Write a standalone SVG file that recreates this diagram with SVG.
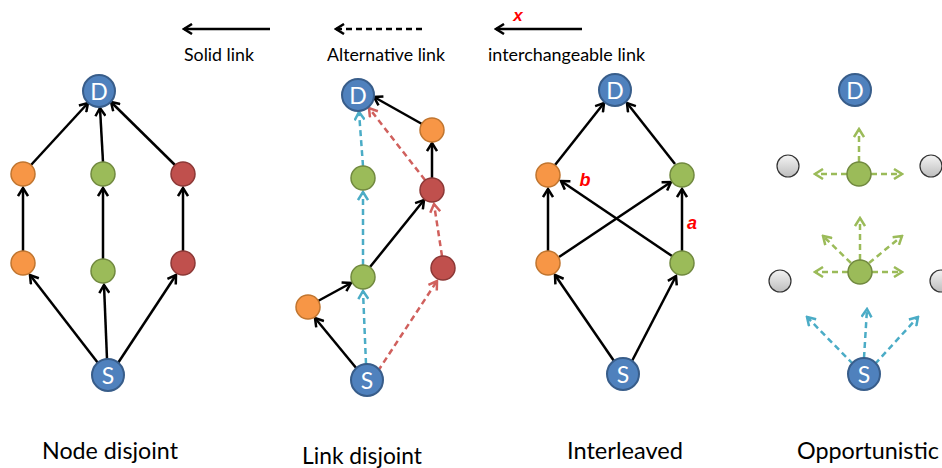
<svg xmlns="http://www.w3.org/2000/svg" width="942" height="468" viewBox="0 0 942 468">
<style>
.lbl{font-family:Lato,"Liberation Sans",sans-serif;fill:#000}
.leg{font-size:17px}
.cap{font-size:23px}
.nl{font-family:Lato,"Liberation Sans",sans-serif;font-size:23px;fill:#fff;text-anchor:middle;dominant-baseline:central}
.blue{fill:#4F81BD;stroke:#385D8A;stroke-width:2}
.or{fill:#F79646;stroke:#C0752F;stroke-width:1.5}
.gr{fill:#9BBB59;stroke:#71893F;stroke-width:1.5}
.rd{fill:#C0504D;stroke:#8C3836;stroke-width:1.5}
.gy{fill:url(#gg);stroke:#333;stroke-width:1.2}
.s{stroke:#000;stroke-width:2.5;fill:none;marker-end:url(#ah)}
.db{stroke:#4BACC6;stroke-width:2.5;fill:none;stroke-dasharray:6 4;marker-end:url(#ahb)}
.dr{stroke:#D0605D;stroke-width:2.5;fill:none;stroke-dasharray:6 4;marker-end:url(#ahr)}
.dg{stroke:#9BBB59;stroke-width:2.5;fill:none;stroke-dasharray:6 4;marker-end:url(#ahg)}
.dk{stroke:#000;stroke-width:2.5;fill:none;stroke-dasharray:6 4;marker-end:url(#ah)}
.red{font-family:"Liberation Sans",sans-serif;font-weight:bold;font-style:italic;fill:#FF0000}
</style>
<defs>
<linearGradient id="gg" x1="0" y1="0" x2="0" y2="1"><stop offset="0" stop-color="#f4f4f4"/><stop offset="1" stop-color="#bdbdbd"/></linearGradient>
<marker id="ah" viewBox="0 0 12 12" refX="10" refY="6" markerWidth="12" markerHeight="12" markerUnits="userSpaceOnUse" orient="auto"><path d="M2,1 L10,6 L2,11" fill="none" stroke="#000" stroke-width="2.5"/></marker>
<marker id="ahb" viewBox="0 0 12 12" refX="10" refY="6" markerWidth="12" markerHeight="12" markerUnits="userSpaceOnUse" orient="auto"><path d="M2,1 L10,6 L2,11" fill="none" stroke="#4BACC6" stroke-width="2.5"/></marker>
<marker id="ahr" viewBox="0 0 12 12" refX="10" refY="6" markerWidth="12" markerHeight="12" markerUnits="userSpaceOnUse" orient="auto"><path d="M2,1 L10,6 L2,11" fill="none" stroke="#D0605D" stroke-width="2.5"/></marker>
<marker id="ahg" viewBox="0 0 12 12" refX="10" refY="6" markerWidth="12" markerHeight="12" markerUnits="userSpaceOnUse" orient="auto"><path d="M2,1 L10,6 L2,11" fill="none" stroke="#9BBB59" stroke-width="2.5"/></marker>
</defs>
<rect width="942" height="468" fill="#fff"/>

<g id="legend">
<path class="s" d="M270,29 L184,29"/>
<path class="dk" d="M422,29 L336,29"/>
<path class="s" d="M582,29 L496,29"/>
<text class="red" x="518" y="21" font-size="17" text-anchor="middle">x</text>
<text class="lbl leg" x="184" y="61" textLength="70" lengthAdjust="spacingAndGlyphs">Solid link</text>
<text class="lbl leg" x="327" y="61" textLength="118" lengthAdjust="spacingAndGlyphs">Alternative link</text>
<text class="lbl leg" x="488" y="61" textLength="157" lengthAdjust="spacingAndGlyphs">interchangeable link</text>
</g>

<g id="connectors">
<!-- panel 1 -->
<path class="s" d="M31,165 L88,103"/>
<path class="s" d="M103,162 L100,108"/>
<path class="s" d="M176,166 L111,102"/>
<path class="s" d="M23,251 L23,188"/>
<path class="s" d="M103,259 L103,188"/>
<path class="s" d="M183,251 L183,188"/>
<path class="s" d="M98,363 L30,275"/>
<path class="s" d="M107,359 L104,285"/>
<path class="s" d="M118,363 L176,275"/>
<!-- panel 2 -->
<path class="s" d="M357,369 L315,318"/>
<path class="s" d="M318,301 L351,283"/>
<path class="s" d="M370,267 L424,200"/>
<path class="s" d="M432,178 L432,143"/>
<path class="s" d="M422,124 L374,97"/>
<path class="db" d="M366,364 L363,291"/>
<path class="db" d="M363,265 L363,192"/>
<path class="db" d="M363,166 L359,112"/>
<path class="dr" d="M378,371 L437,281"/>
<path class="dr" d="M442,256 L434,204"/>
<path class="dr" d="M425,180 L369,108"/>
<!-- panel 3 -->
<path class="s" d="M614,361 L555,275"/>
<path class="s" d="M632,361 L676,276"/>
<path class="s" d="M548,251 L548,189"/>
<path class="s" d="M682,251 L682,189"/>
<path class="s" d="M559,257 L671,182"/>
<path class="s" d="M672,256 L561,181"/>
<path class="s" d="M555,165 L604,103"/>
<path class="s" d="M675,164 L627,103"/>
<!-- panel 4 -->
<path class="dg" d="M859,162 L859,129"/>
<path class="dg" d="M847,174 L815,174"/>
<path class="dg" d="M871,174 L902,174"/>
<path class="dg" d="M860,260 L860,218"/>
<path class="dg" d="M851,263 L823,236"/>
<path class="dg" d="M869,263 L902,236"/>
<path class="dg" d="M848,272 L815,272"/>
<path class="dg" d="M872,272 L902,272"/>
<path class="db" d="M853,364 L807,317"/>
<path class="db" d="M864,358 L867,309"/>
<path class="db" d="M875,364 L918,317"/>
</g>

<g id="p1-D"><circle class="blue" cx="99" cy="91" r="16"/><text class="nl" x="99" y="91">D</text></g>
<g id="p1-o1"><circle class="or" cx="23" cy="174" r="12"/></g>
<g id="p1-g1"><circle class="gr" cx="103" cy="174" r="12"/></g>
<g id="p1-r1"><circle class="rd" cx="183" cy="174" r="12"/></g>
<g id="p1-o2"><circle class="or" cx="23" cy="263" r="12"/></g>
<g id="p1-g2"><circle class="gr" cx="103" cy="271" r="12"/></g>
<g id="p1-r2"><circle class="rd" cx="183" cy="263" r="12"/></g>
<g id="p1-S"><circle class="blue" cx="108" cy="375" r="16"/><text class="nl" x="108" y="375">S</text></g>

<g id="p2-D"><circle class="blue" cx="358" cy="95" r="16"/><text class="nl" x="358" y="95">D</text></g>
<g id="p2-o1"><circle class="or" cx="432" cy="130" r="12"/></g>
<g id="p2-g1"><circle class="gr" cx="363" cy="178" r="12"/></g>
<g id="p2-r1"><circle class="rd" cx="432" cy="190" r="12"/></g>
<g id="p2-g2"><circle class="gr" cx="363" cy="277" r="12"/></g>
<g id="p2-r2"><circle class="rd" cx="443" cy="268" r="12"/></g>
<g id="p2-o2"><circle class="or" cx="308" cy="307" r="12"/></g>
<g id="p2-S"><circle class="blue" cx="367" cy="380" r="16"/><text class="nl" x="367" y="380">S</text></g>

<g id="p3-D"><circle class="blue" cx="615" cy="90" r="16"/><text class="nl" x="615" y="90">D</text></g>
<g id="p3-o1"><circle class="or" cx="548" cy="175" r="12"/></g>
<g id="p3-g1"><circle class="gr" cx="682" cy="175" r="12"/></g>
<g id="p3-o2"><circle class="or" cx="548" cy="263" r="12"/></g>
<g id="p3-g2"><circle class="gr" cx="682" cy="263" r="12"/></g>
<g id="p3-S"><circle class="blue" cx="623" cy="374" r="16"/><text class="nl" x="623" y="374">S</text></g>
<g id="p3-labels">
<text class="red" x="585" y="186" font-size="18" text-anchor="middle">b</text>
<text class="red" x="692" y="229" font-size="18" text-anchor="middle">a</text>
</g>

<g id="p4-D"><circle class="blue" cx="855" cy="90" r="16"/><text class="nl" x="855" y="90">D</text></g>
<g id="p4-gl1"><circle class="gy" cx="788" cy="166" r="11"/></g>
<g id="p4-gr1"><circle class="gy" cx="931" cy="166" r="11"/></g>
<g id="p4-g1"><circle class="gr" cx="859" cy="174" r="12"/></g>
<g id="p4-gl2"><circle class="gy" cx="780" cy="281" r="11"/></g>
<g id="p4-gr2"><circle class="gy" cx="941" cy="281" r="11"/></g>
<g id="p4-g2"><circle class="gr" cx="860" cy="272" r="12"/></g>
<g id="p4-S"><circle class="blue" cx="864" cy="374" r="16"/><text class="nl" x="864" y="374">S</text></g>

<g id="captions">
<text class="lbl cap" x="42" y="459" textLength="136" lengthAdjust="spacingAndGlyphs">Node disjoint</text>
<text class="lbl cap" x="302" y="464" textLength="120" lengthAdjust="spacingAndGlyphs">Link disjoint</text>
<text class="lbl cap" x="567" y="459" textLength="116" lengthAdjust="spacingAndGlyphs">Interleaved</text>
<text class="lbl cap" x="797" y="459" textLength="142" lengthAdjust="spacingAndGlyphs">Opportunistic</text>
</g>
</svg>
